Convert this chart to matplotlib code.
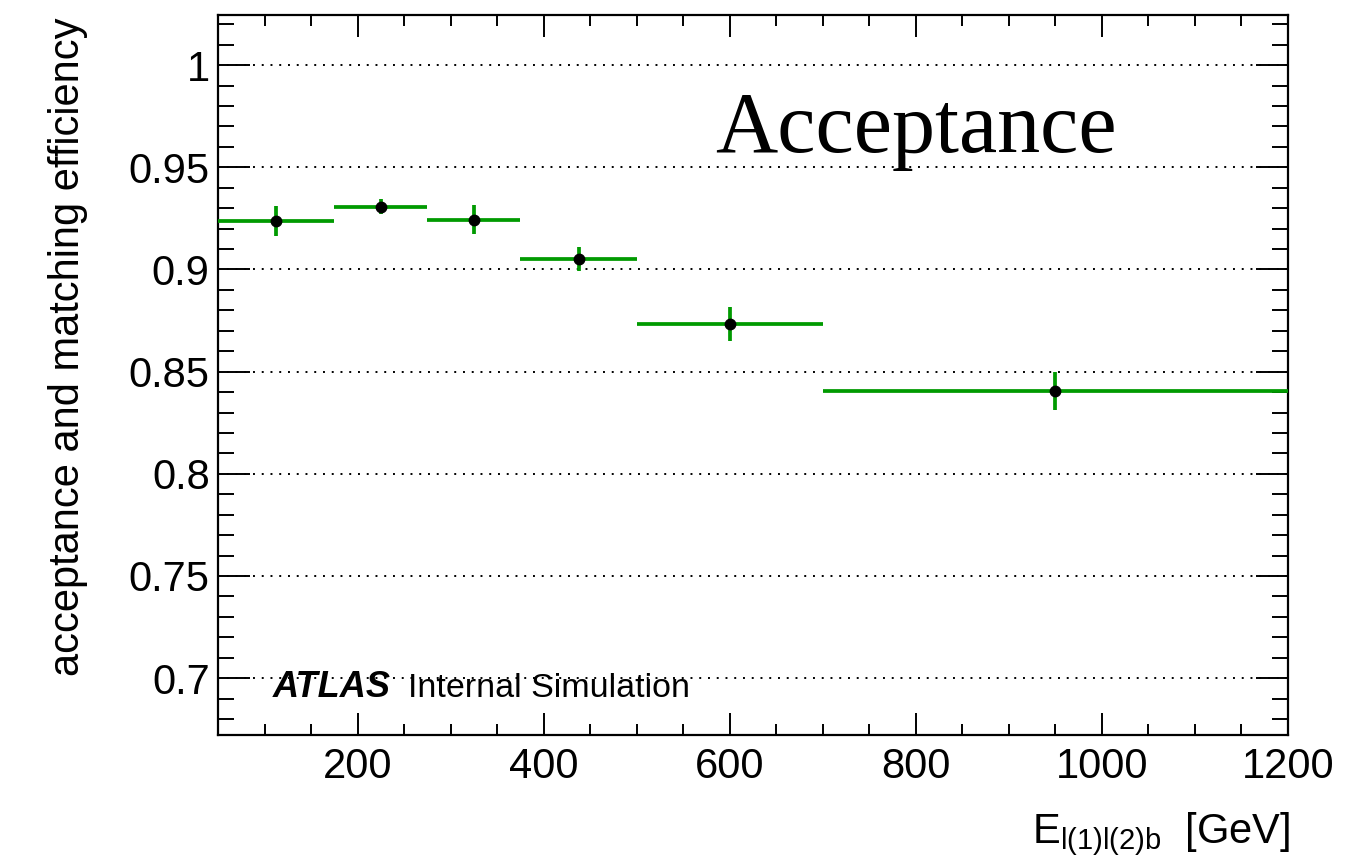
import matplotlib
matplotlib.use("Agg")
import matplotlib.pyplot as plt
import numpy as np
from matplotlib.ticker import MultipleLocator, FuncFormatter

# bin edges in E_l(1)l(2)b [GeV], efficiency and its error per bin
edges = [50, 175, 275, 375, 500, 700, 1200]
eff = [0.9237, 0.9307, 0.9243, 0.9051, 0.8733, 0.8405]
eff_err = [0.0075, 0.0038, 0.0070, 0.0060, 0.0082, 0.0093]

plt.rcParams['font.family'] = ['Liberation Sans', 'DejaVu Sans']
plt.rcParams['mathtext.fontset'] = 'custom'
plt.rcParams['mathtext.rm'] = 'Liberation Sans'
plt.rcParams['mathtext.it'] = 'Liberation Sans:italic'

W, H = 1358, 859
fig = plt.figure(figsize=(W / 100, H / 100), dpi=100)
ax = fig.add_axes([218 / W, 1 - 735 / H, 1070 / W, 720 / H])

edges = np.array(edges)
xc = 0.5 * (edges[1:] + edges[:-1])
xw = 0.5 * (edges[1:] - edges[:-1])

green = '#009a00'
ax.errorbar(xc, eff, xerr=xw, yerr=eff_err, fmt='none', ecolor=green,
            elinewidth=2.7, capsize=0, zorder=3)
ax.plot(xc, eff, 'o', color='k', ms=7.5, zorder=4)

ax.set_xlim(50, 1200)
ax.set_ylim(0.6722, 1.0245)

ax.xaxis.set_major_locator(MultipleLocator(200))
ax.xaxis.set_minor_locator(MultipleLocator(50))
ax.yaxis.set_major_locator(MultipleLocator(0.05))
ax.yaxis.set_minor_locator(MultipleLocator(0.01))
ax.yaxis.set_major_formatter(FuncFormatter(lambda v, p: f'{v:g}'))

ax.grid(axis='y', which='major', color='k', linestyle=(0, (1, 3.5)),
        linewidth=1.4, zorder=1)
ax.set_axisbelow(True)

ax.tick_params(which='both', direction='in', top=True, right=True,
               width=1.4, labelsize=30)
ax.tick_params(axis='x', which='major', length=16, pad=9)
ax.tick_params(axis='x', which='minor', length=8)
ax.tick_params(axis='y', which='major', length=23, pad=6)
ax.tick_params(axis='y', which='minor', length=11.5)
for s in ax.spines.values():
    s.set_linewidth(1.6)

fig.text(68 / W, 1 - 18 / H, 'acceptance and matching efficiency',
         rotation=90, ha='center', va='top', fontsize=30)
fig.text(1290 / W, 1 - 843 / H, r'E$_{\mathrm{l(1)l(2)b}}$  [GeV]',
         ha='right', va='baseline', fontsize=30)

fig.text(715 / W, 1 - 152 / H, 'Acceptance', ha='left', va='baseline',
         fontsize=62, family='Liberation Serif')

fig.text(273 / W, 1 - 697 / H, 'ATLAS', ha='left', va='baseline',
         fontsize=26, weight='bold', style='italic')
fig.text(408 / W, 1 - 697 / H, 'Internal Simulation', ha='left',
         va='baseline', fontsize=24.5)

fig.savefig('out.png', dpi=100)
